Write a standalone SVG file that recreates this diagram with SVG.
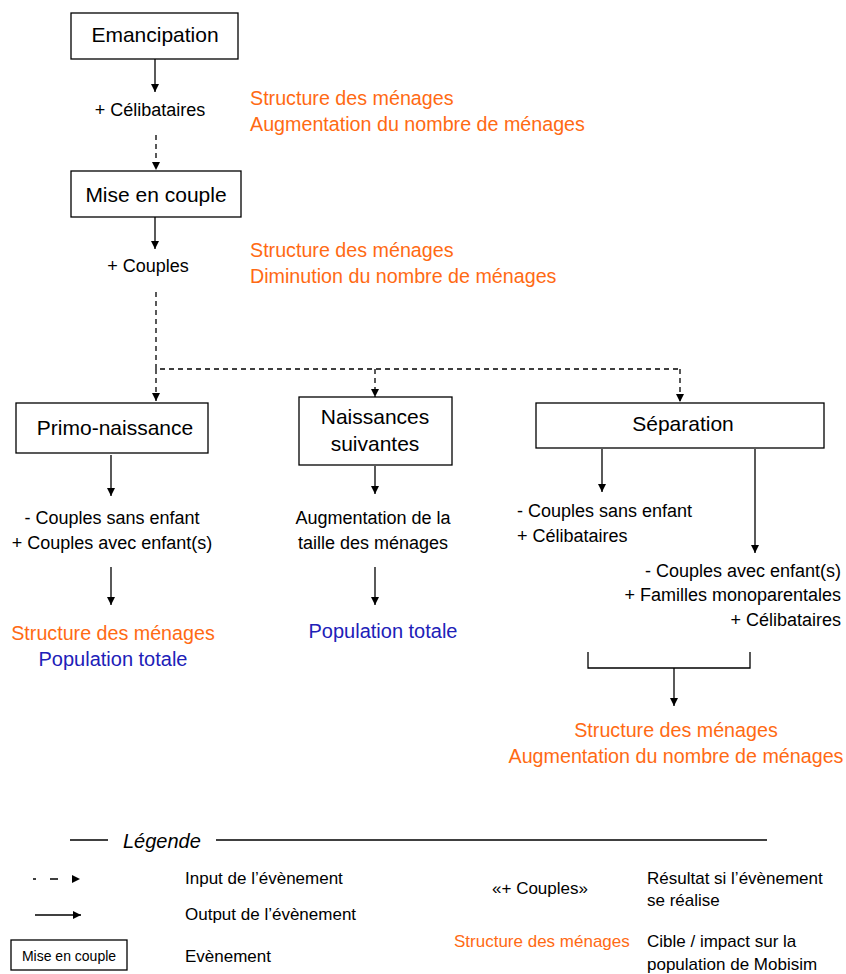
<svg xmlns="http://www.w3.org/2000/svg" width="846" height="974" viewBox="0 0 846 974">
<defs>
<marker id="ah" viewBox="0 0 10 10" refX="10" refY="5" markerWidth="9" markerHeight="8" markerUnits="userSpaceOnUse" orient="auto"><path d="M0,0 L10,5 L0,10 z" fill="#000"/></marker>
</defs>
<style>
text{font-family:"Liberation Sans",Arial,sans-serif;fill:#000}
.box{fill:#fff;stroke:#000;stroke-width:1.3}
.n{font-size:21px}
.t{font-size:18px}
.o{font-size:19.7px;fill:#FF6A13}
.b{font-size:20px;fill:#2020B8}
.s{stroke:#000;stroke-width:1.3;fill:none}
.d{stroke:#000;stroke-width:1.3;fill:none;stroke-dasharray:5 4}
.l{font-size:17px}
.m{text-anchor:middle}
.e{text-anchor:end}
</style>
<g id="connectors">
<line class="s" x1="155" y1="59" x2="155" y2="92" marker-end="url(#ah)"/>
<line class="d" x1="156" y1="135" x2="156" y2="170" marker-end="url(#ah)"/>
<line class="s" x1="155" y1="217" x2="155" y2="249" marker-end="url(#ah)"/>
<path class="d" d="M156,292 V369 H680"/>
<line class="d" x1="156" y1="369" x2="156" y2="401" marker-end="url(#ah)"/>
<line class="d" x1="375" y1="369" x2="375" y2="397" marker-end="url(#ah)"/>
<line class="d" x1="680" y1="369" x2="680" y2="402" marker-end="url(#ah)"/>
<line class="s" x1="111" y1="455" x2="111" y2="496" marker-end="url(#ah)"/>
<line class="s" x1="111" y1="567" x2="111" y2="605" marker-end="url(#ah)"/>
<line class="s" x1="375" y1="466" x2="375" y2="494" marker-end="url(#ah)"/>
<line class="s" x1="375" y1="567" x2="375" y2="605" marker-end="url(#ah)"/>
<line class="s" x1="602" y1="449" x2="602" y2="492" marker-end="url(#ah)"/>
<line class="s" x1="755" y1="449" x2="755" y2="553" marker-end="url(#ah)"/>
<path class="s" d="M588,652 V668 H750 V652"/>
<line class="s" x1="674" y1="668" x2="674" y2="706" marker-end="url(#ah)"/>
</g>
<g id="emancipation">
<rect class="box" x="71" y="13" width="167" height="46"/>
<text class="n m" x="155" y="42">Emancipation</text>
</g>
<g id="r1">
<text class="t m" x="150" y="116">+ Célibataires</text>
<text class="o" x="250" y="105">Structure des ménages</text>
<text class="o" x="250" y="131">Augmentation du nombre de ménages</text>
</g>
<g id="mise-en-couple">
<rect class="box" x="71" y="171" width="170" height="46"/>
<text class="n m" x="156" y="202">Mise en couple</text>
</g>
<g id="r2">
<text class="t m" x="148" y="272">+ Couples</text>
<text class="o" x="250" y="257">Structure des ménages</text>
<text class="o" x="250" y="283">Diminution du nombre de ménages</text>
</g>
<g id="primo-naissance">
<rect class="box" x="16" y="403" width="192" height="50"/>
<text class="n m" x="115" y="435">Primo-naissance</text>
</g>
<g id="naissances-suivantes">
<rect class="box" x="299" y="397" width="153" height="68"/>
<text class="n m" x="375" y="424">Naissances</text>
<text class="n m" x="375" y="451">suivantes</text>
</g>
<g id="separation">
<rect class="box" x="536" y="403" width="288" height="45"/>
<text class="n m" x="683" y="431">Séparation</text>
</g>
<g id="r-primo">
<text class="t m" x="112" y="524">- Couples sans enfant</text>
<text class="t m" x="112" y="549">+ Couples avec enfant(s)</text>
<text class="o m" x="113" y="640">Structure des ménages</text>
<text class="b m" x="113" y="666">Population totale</text>
</g>
<g id="r-naissances">
<text class="t m" x="373" y="524">Augmentation de la</text>
<text class="t m" x="373" y="549">taille des ménages</text>
<text class="b m" x="383" y="638">Population totale</text>
</g>
<g id="r-separation">
<text class="t" x="517" y="517">- Couples sans enfant</text>
<text class="t" x="517" y="542">+ Célibataires</text>
<text class="t e" x="841" y="577">- Couples avec enfant(s)</text>
<text class="t e" x="841" y="601">+ Familles monoparentales</text>
<text class="t e" x="841" y="626">+ Célibataires</text>
<text class="o m" x="676" y="737">Structure des ménages</text>
<text class="o m" x="676" y="763">Augmentation du nombre de ménages</text>
</g>
<g id="legende">
<line class="s" x1="70" y1="840" x2="108" y2="840"/>
<text x="123" y="848" style="font-size:20px;font-style:italic">Légende</text>
<line class="s" x1="216" y1="840" x2="767" y2="840"/>
<path class="s" d="M33,879 H80" style="stroke-dasharray:3 14 8 30" marker-end="url(#ah)"/>
<text class="l" x="185" y="884">Input de l’évènement</text>
<line class="s" x1="35" y1="915" x2="81" y2="915" marker-end="url(#ah)"/>
<text class="l" x="185" y="920">Output de l’évènement</text>
<rect class="box" x="11" y="940" width="116" height="30"/>
<text x="69" y="961" class="m" style="font-size:14px">Mise en couple</text>
<text class="l" x="185" y="962">Evènement</text>
<text class="l m" x="540" y="894">«+ Couples»</text>
<text class="l" x="647" y="884">Résultat si l’évènement</text>
<text class="l" x="647" y="906">se réalise</text>
<text class="l" x="454" y="947" style="fill:#FF6A13">Structure des ménages</text>
<text class="l" x="647" y="947">Cible / impact sur la</text>
<text class="l" x="647" y="970">population de Mobisim</text>
</g>
</svg>
